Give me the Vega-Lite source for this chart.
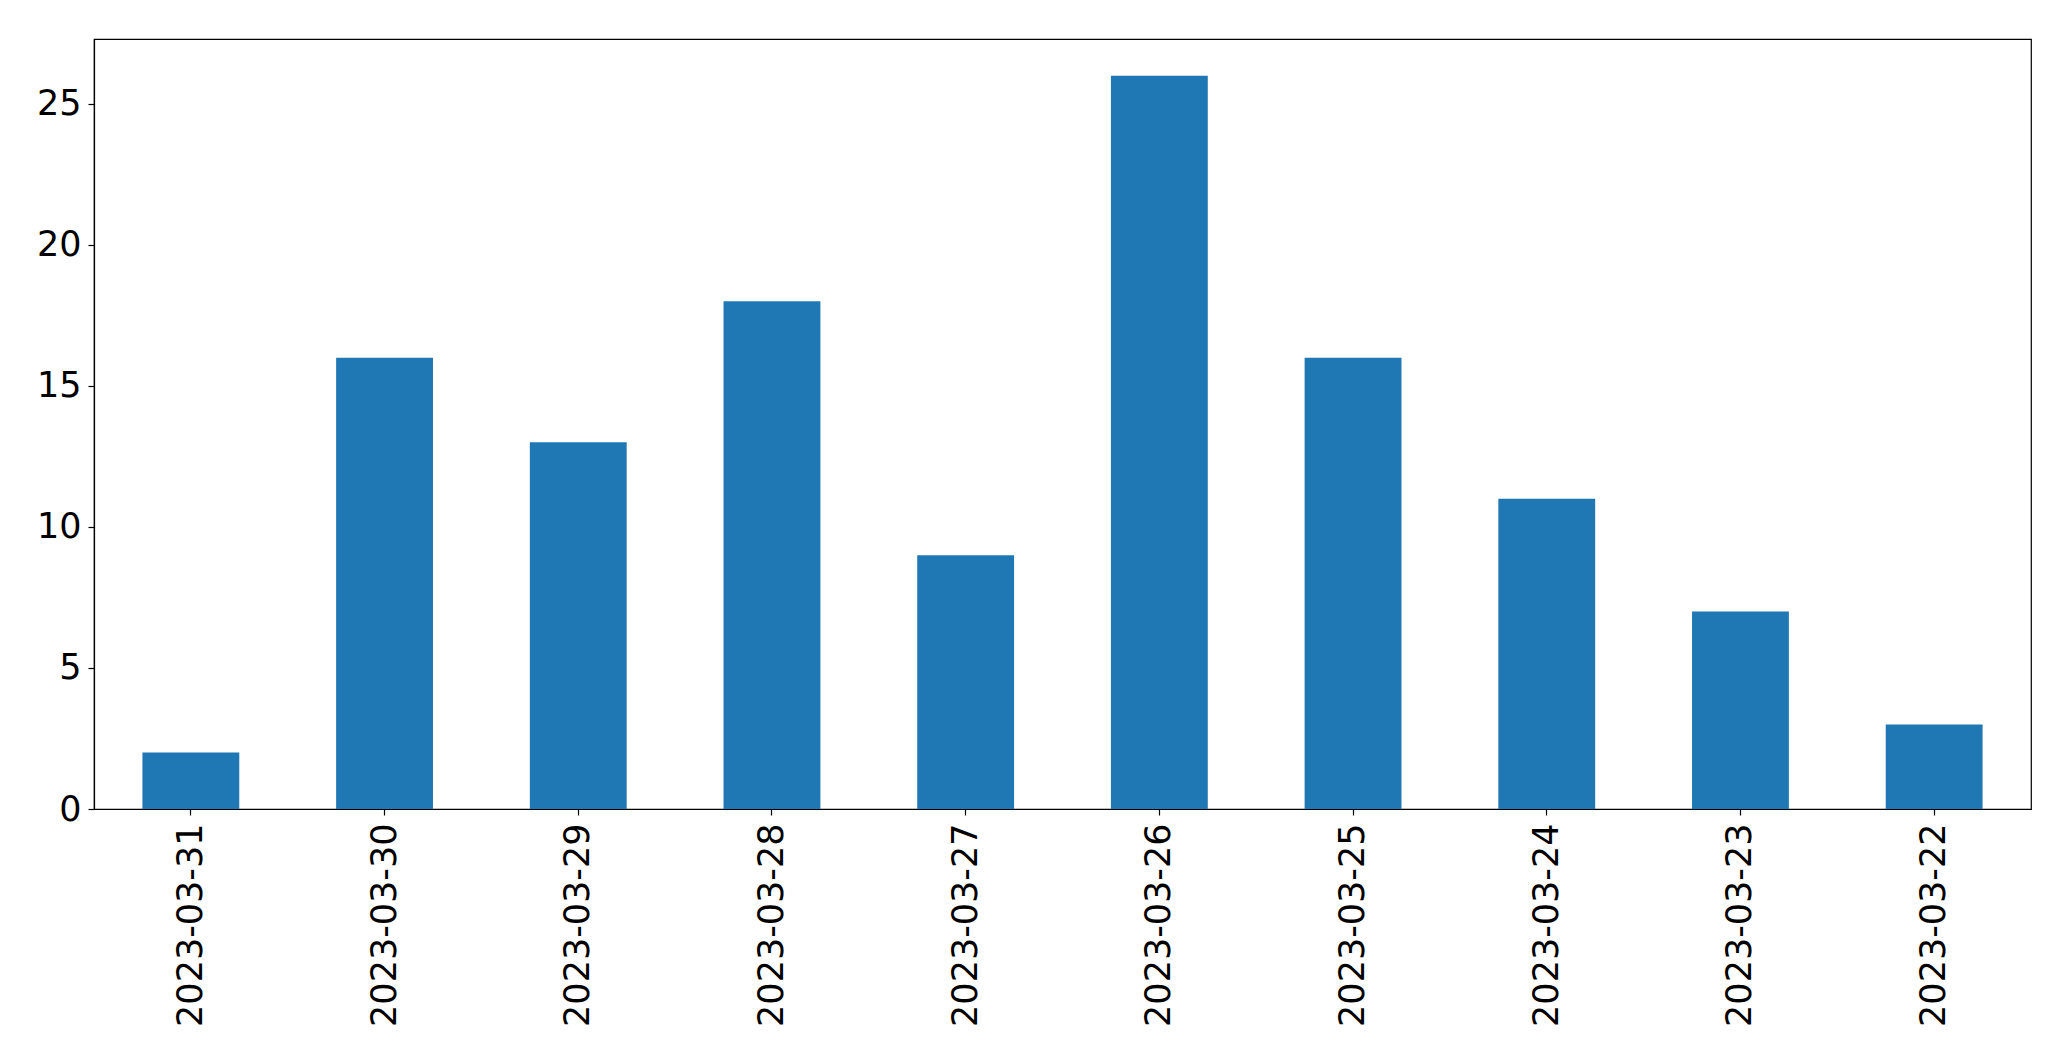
{
  "$schema": "https://vega.github.io/schema/vega-lite/v6.json",
  "autosize": {"type": "none"},
  "padding": {"left": 94, "top": 39, "right": 40, "bottom": 252},
  "width": 1937,
  "height": 770,
  "background": "white",
  "config": {
    "view": {"stroke": "black", "strokeWidth": 1.2},
    "font": "DejaVu Sans",
    "axis": {
      "labelFont": "DejaVu Sans",
      "labelFontSize": 35,
      "labelLimit": 0,
      "labelColor": "black",
      "tickColor": "black",
      "tickSize": 6,
      "tickWidth": 1.2,
      "domainColor": "black",
      "domainWidth": 1.2,
      "grid": false,
      "title": null
    }
  },
  "data": {
    "values": [
      {"date": "2023-03-31", "count": 2},
      {"date": "2023-03-30", "count": 16},
      {"date": "2023-03-29", "count": 13},
      {"date": "2023-03-28", "count": 18},
      {"date": "2023-03-27", "count": 9},
      {"date": "2023-03-26", "count": 26},
      {"date": "2023-03-25", "count": 16},
      {"date": "2023-03-24", "count": 11},
      {"date": "2023-03-23", "count": 7},
      {"date": "2023-03-22", "count": 3}
    ]
  },
  "mark": {"type": "bar", "color": "#1f77b4"},
  "encoding": {
    "x": {
      "field": "date",
      "type": "nominal",
      "sort": null,
      "scale": {"paddingInner": 0.5, "paddingOuter": 0.25},
      "axis": {"labelAngle": -90, "labelPadding": 8, "labelBaseline": "middle", "labelAlign": "right"}
    },
    "y": {
      "field": "count",
      "type": "quantitative",
      "scale": {"domain": [0, 27.3], "nice": false, "zero": true},
      "axis": {"values": [0, 5, 10, 15, 20, 25], "labelPadding": 7}
    }
  }
}
